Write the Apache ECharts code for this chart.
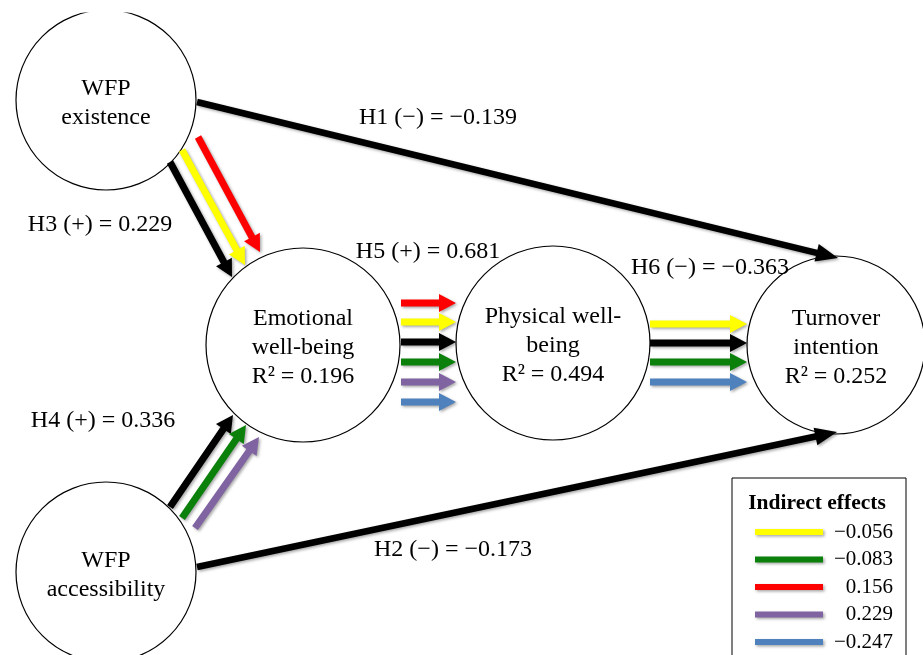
<!DOCTYPE html>
<html><head><meta charset="utf-8">
<script src="https://cdn.jsdelivr.net/npm/echarts@6/dist/echarts.min.js"></script>
<style>html,body{margin:0;padding:0;background:#fff}#c{width:923px;height:655px}</style>
</head><body><div id="c"></div>
<script>
// ---- data ----
const constructs = ['WFP\nexistence', 'Emotional\nwell-being', 'Physical well-\nbeing', 'Turnover\nintention', 'WFP\naccessibility'];
const rSquared = [null, 0.196, 0.494, 0.252, null];
const hypotheses = ['H1 (\u2212)', 'H2 (\u2212)', 'H3 (+)', 'H4 (+)', 'H5 (+)', 'H6 (\u2212)'];
const coefficients = [-0.139, -0.173, 0.229, 0.336, 0.681, -0.363];
const indirectNames = ['yellow', 'green', 'red', 'purple', 'blue'];
const indirectEffects = [-0.056, -0.083, 0.156, 0.229, -0.247];

// ---- diagram layout (diagram units = pixels of a 923x655 plane) ----
const nodeLayout = [[106, 100, 90], [303, 345, 97], [553, 343, 97], [836, 345, 89], [106, 572, 90]];
const labelLayout = [[438, 118], [453, 550], [100, 225], [103, 421], [428, 252], [710, 268]];
const directArrows = [[197, 102, 838, 258], [197, 567, 837, 432]];
// [x0,y0,x1,y1, colourIndex] colourIndex: -1 black, else indirect effect index
const pathArrows = [
  [170, 162, 232, 277, -1], [182, 150, 245, 265, 0], [198, 137, 260, 252, 2],
  [170, 507, 233, 415, -1], [182, 518, 246, 425, 1], [195, 528, 259, 437, 3],
  [401, 303, 456, 303, 2], [401, 322, 456, 322, 0], [401, 342, 456, 342, -1],
  [401, 362, 456, 362, 1], [401, 382, 456, 382, 3], [401, 402, 456, 402, 4],
  [650, 324, 747, 324, 0], [650, 343, 747, 343, -1], [650, 362, 747, 362, 1], [650, 382, 747, 382, 4]
];
const effectColors = ['#FFFF00', '#0B800B', '#FF0000', '#8064A2', '#4F81BD'];

const FONT = '"Liberation Serif","Times New Roman",serif';
const fmt = v => (v < 0 ? '\u2212' : '') + Math.abs(v).toFixed(3);

function arrowPoints(p0, p1, w, hl, hw) {
  const dx = p1[0] - p0[0], dy = p1[1] - p0[1];
  const len = Math.sqrt(dx * dx + dy * dy);
  const ux = dx / len, uy = dy / len, nx = -uy, ny = ux;
  const bx = p1[0] - ux * hl, by = p1[1] - uy * hl;
  return [
    [p0[0] + nx * w / 2, p0[1] + ny * w / 2],
    [bx + nx * w / 2, by + ny * w / 2],
    [bx + nx * hw / 2, by + ny * hw / 2],
    [p1[0], p1[1]],
    [bx - nx * hw / 2, by - ny * hw / 2],
    [bx - nx * w / 2, by - ny * w / 2],
    [p0[0] - nx * w / 2, p0[1] - ny * w / 2]
  ];
}
const shadow = { shadowBlur: 3, shadowOffsetX: 1.5, shadowOffsetY: 1.5, shadowColor: 'rgba(0,0,0,0.35)' };

const chart = echarts.init(document.getElementById('c'), null, { renderer: 'canvas' });

const nodeData = constructs.map((n, i) => [nodeLayout[i][0], nodeLayout[i][1], nodeLayout[i][2], i]);
const labelData = hypotheses.map((h, i) => [labelLayout[i][0], labelLayout[i][1], i]);

const legendX = 732, legendY = 478;
const legendChildren = [
  { type: 'rect', shape: { x: legendX, y: legendY, width: 174, height: 200 }, style: { fill: '#fff', stroke: '#000', lineWidth: 1 } },
  { type: 'text', x: legendX + 85, y: legendY + 25, style: { text: 'Indirect effects', font: 'bold 21.5px ' + FONT, fill: '#000', align: 'center', verticalAlign: 'middle' } }
];
indirectEffects.forEach((v, i) => {
  const y = legendY + 54 + i * 27.5;
  legendChildren.push({ type: 'line', shape: { x1: legendX + 23, y1: y, x2: legendX + 91, y2: y }, style: Object.assign({ stroke: effectColors[i], lineWidth: 6 }, shadow) });
  legendChildren.push({ type: 'text', x: legendX + 161, y: y, style: { text: fmt(v), font: '21px ' + FONT, fill: '#000', align: 'right', verticalAlign: 'middle' } });
});

chart.setOption({
  animation: false,
  backgroundColor: '#fff',
  grid: { left: 0, right: 0, top: 0, bottom: 0 },
  xAxis: { type: 'value', min: 0, max: 923, show: false },
  yAxis: { type: 'value', min: 0, max: 655, inverse: true, show: false },
  graphic: [
    { type: 'rect', z: 100, shape: { x: 0, y: 0, width: 923, height: 12.5 }, style: { fill: '#fff' } },
    { type: 'group', z: 100, children: legendChildren }
  ],
  series: [
    {
      type: 'custom', coordinateSystem: 'cartesian2d', z: 2, clip: false,
      data: nodeData,
      renderItem: function (params, api) {
        const c = api.coord([api.value(0), api.value(1)]);
        const r = api.size([api.value(2), 0])[0];
        const i = api.value(3);
        const txt = constructs[i] + (rSquared[i] != null ? '\nR\u00B2 = ' + rSquared[i].toFixed(3) : '');
        return {
          type: 'group', children: [
            { type: 'circle', shape: { cx: c[0], cy: c[1], r: r }, style: { fill: '#fff', stroke: '#000', lineWidth: 1.2 } },
            { type: 'text', style: { text: txt, x: c[0], y: c[1] + 3, font: '24px ' + FONT, lineHeight: 29, fill: '#000', align: 'center', verticalAlign: 'middle' } }
          ]
        };
      }
    },
    {
      type: 'custom', coordinateSystem: 'cartesian2d', z: 3, clip: false,
      data: directArrows,
      renderItem: function (params, api) {
        const p0 = api.coord([api.value(0), api.value(1)]);
        const p1 = api.coord([api.value(2), api.value(3)]);
        return { type: 'polygon', shape: { points: arrowPoints(p0, p1, 6.5, 22, 18) }, style: Object.assign({ fill: '#000' }, shadow) };
      }
    },
    {
      type: 'custom', coordinateSystem: 'cartesian2d', z: 3, clip: false,
      data: pathArrows,
      renderItem: function (params, api) {
        const p0 = api.coord([api.value(0), api.value(1)]);
        const p1 = api.coord([api.value(2), api.value(3)]);
        const ci = api.value(4);
        const col = ci < 0 ? '#000' : effectColors[ci];
        return { type: 'polygon', shape: { points: arrowPoints(p0, p1, 7, 17, 18) }, style: Object.assign({ fill: col }, shadow) };
      }
    },
    {
      type: 'custom', coordinateSystem: 'cartesian2d', z: 4, clip: false,
      data: labelData,
      renderItem: function (params, api) {
        const p = api.coord([api.value(0), api.value(1)]);
        const i = api.value(2);
        return { type: 'text', style: { text: hypotheses[i] + ' = ' + fmt(coefficients[i]), x: p[0], y: p[1], font: '24px ' + FONT, fill: '#000', align: 'center', verticalAlign: 'middle' } };
      }
    }
  ]
});
</script>
</body></html>
